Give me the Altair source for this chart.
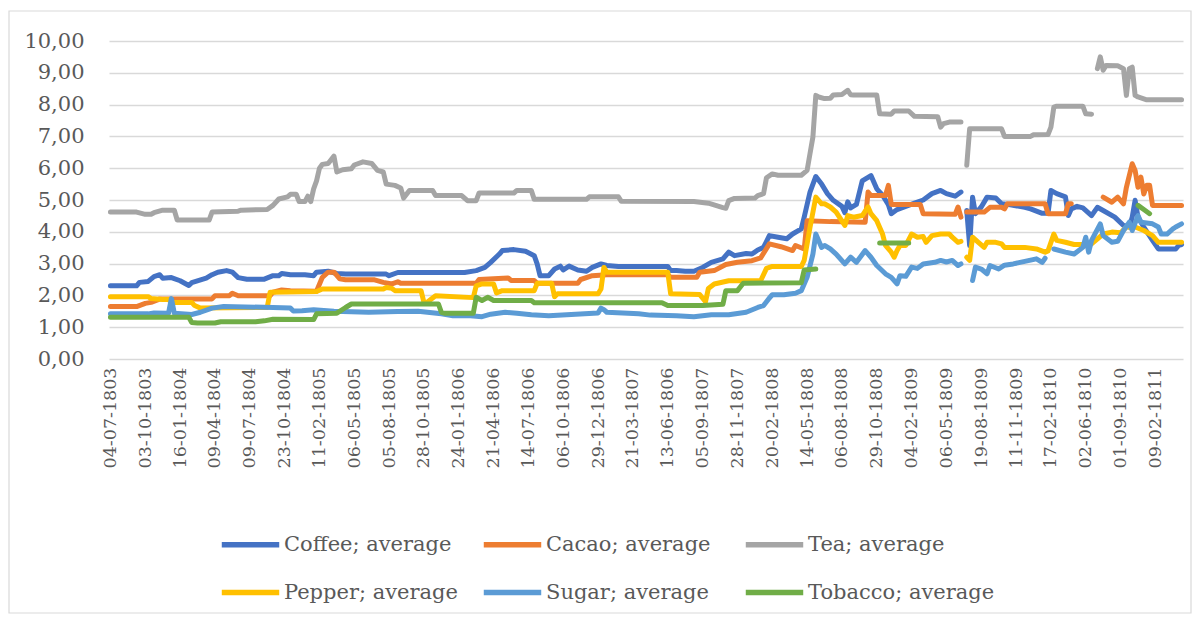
import json
import pandas as pd
import altair as alt

# ---------------- data ----------------
tick_labels = ["04-07-1803", "03-10-1803", "16-01-1804", "09-04-1804", "09-07-1804",
               "23-10-1804", "11-02-1805", "06-05-1805", "05-08-1805", "28-10-1805",
               "24-01-1806", "21-04-1806", "14-07-1806", "06-10-1806", "29-12-1806",
               "21-03-1807", "13-06-1806", "05-09-1807", "28-11-1807", "20-02-1808",
               "14-05-1808", "06-08-1808", "29-10-1808", "04-02-1809", "06-05-1809",
               "19-08-1809", "11-11-1809", "17-02-1810", "02-06-1810", "01-09-1810",
               "09-02-1811"]
n_categories = 370
label_step = 12

series_names = ["Coffee; average", "Cacao; average", "Tea; average",
                "Pepper; average", "Sugar; average", "Tobacco; average"]
series_colors = ["#4472C4", "#ED7D31", "#A5A5A5", "#FFC000", "#5B9BD5", "#70AD47"]

coffee_idx = [0, 9, 10, 13, 15, 17, 18, 21, 24, 27, 28, 33, 35, 37, 40, 42, 44, 47, 53, 56, 58, 59, 62, 67,
              70, 71, 75, 78, 81, 95, 96, 99, 122, 126, 129, 131, 134, 135, 139, 143, 146, 147, 148, 151,
              153, 155, 156, 158, 161, 164, 166, 169, 171, 175, 192, 193, 195, 198, 201, 204, 207, 211,
              213, 215, 219, 221, 223, 225, 227, 230, 233, 235, 238, 239, 241, 243, 245, 247, 249, 252,
              253, 254, 255, 257, 259, 262, 264, 266, 268, 269, 271, 274, 277, 280, 283, 286, 288, 291,
              293, 294, 295, 296, 297, 298, 300, 302, 305, 307, 310, 315, 317, 321, 323, 324, 326, 329,
              330, 331, 333, 335, 338, 340, 342, 346, 349, 351, 352, 353, 354, 356, 359, 361, 367, 368, 369]
coffee_val = [2.30, 2.30, 2.41, 2.44, 2.59, 2.65, 2.54, 2.56, 2.46, 2.31, 2.40, 2.54, 2.65, 2.73, 2.78, 2.73,
              2.56, 2.51, 2.51, 2.62, 2.62, 2.69, 2.65, 2.65, 2.62, 2.73, 2.76, 2.69, 2.67, 2.67, 2.62, 2.72,
              2.72, 2.78, 2.88, 3.04, 3.30, 3.41, 3.44, 3.39, 3.25, 2.99, 2.62, 2.62, 2.83, 2.92, 2.80, 2.92,
              2.80, 2.76, 2.88, 2.99, 2.94, 2.91, 2.91, 2.78, 2.78, 2.76, 2.76, 2.88, 3.04, 3.15, 3.36, 3.25,
              3.32, 3.30, 3.43, 3.51, 3.88, 3.83, 3.78, 3.93, 4.09, 4.46, 5.25, 5.74, 5.50, 5.20, 4.99, 4.80,
              4.60, 4.94, 4.75, 4.86, 5.60, 5.77, 5.35, 5.15, 4.85, 4.57, 4.70, 4.80, 4.90, 5.00, 5.20, 5.30,
              5.20, 5.12, 5.25, None, 4.67, 3.57, 5.09, 4.57, 4.78, 5.09, 5.06, 4.88, 4.85, 4.77, 4.72, 4.58,
              4.58, 5.30, 5.20, 5.10, 4.51, 4.72, 4.80, 4.75, 4.51, 4.77, 4.67, 4.46, 4.20, 4.15, 4.46, 4.99,
              4.46, 4.15, 3.73, 3.46, 3.46, 3.57, 3.60]

cacao_idx = [0, 9, 12, 14, 16, 17, 35, 36, 41, 42, 44, 55, 56, 59, 62, 71, 73, 75, 77, 79, 81, 91, 94, 97,
             99, 100, 126, 127, 137, 138, 146, 147, 161, 162, 166, 171, 192, 193, 202, 203, 208, 212, 216,
             221, 224, 227, 231, 235, 236, 239, 240, 248, 260, 261, 262, 267, 268, 269, 279, 280, 291, 292,
             293, 294, 295, 301, 303, 307, 308, 309, 322, 323, 329, 330, 331, 332, 342, 345, 347, 349, 350,
             352, 353, 354, 355, 356, 357, 358, 359, 369]
cacao_val = [1.65, 1.65, 1.75, 1.78, 1.85, 1.89, 1.89, 1.99, 1.99, 2.07, 1.99, 1.99, 2.10, 2.17, 2.15, 2.13,
             2.57, 2.73, 2.73, 2.52, 2.49, 2.49, 2.41, 2.36, 2.43, 2.38, 2.38, 2.50, 2.55, 2.47, 2.47, 2.38,
             2.38, 2.50, 2.62, 2.65, 2.65, 2.57, 2.57, 2.73, 2.78, 2.97, 3.04, 3.09, 3.18, 3.62, 3.53, 3.41,
             3.57, 3.46, 4.35, 4.32, 4.30, 5.25, 5.14, 5.14, 5.46, 4.86, 4.86, 4.57, 4.55, 4.78, 4.46, None,
             4.62, 4.62, 4.77, 4.77, 4.72, 4.88, 4.88, 4.57, 4.57, 4.88, 4.88, None, 5.09, 4.93, 5.09, 4.88,
             5.40, 6.14, 5.93, 5.40, 5.72, 5.19, 5.46, 5.46, 4.83, 4.83]

tea_idx = [0, 9, 12, 14, 15, 18, 22, 23, 34, 35, 44, 45, 54, 56, 58, 61, 62, 64, 65, 67, 68, 69, 70, 71, 72,
           73, 75, 77, 78, 80, 83, 84, 87, 90, 92, 94, 95, 98, 100, 101, 103, 111, 112, 121, 123, 126, 127,
           139, 140, 145, 146, 164, 165, 175, 176, 201, 206, 211, 212, 213, 215, 222, 223, 225, 226, 228, 230,
           238, 240, 241, 242, 243, 244, 246, 248, 249, 252, 254, 255, 256, 264, 265, 269, 270, 275, 277, 285,
           286, 287, 289, 293, 294, 295, 296, 307, 308, 317, 318, 323, 324, 325, 326, 335, 336, 338, 339, 340,
           341, 342, 343, 347, 349, 350, 351, 352, 353, 354, 357, 369]
tea_val = [4.62, 4.62, 4.55, 4.55, 4.60, 4.68, 4.68, 4.37, 4.37, 4.62, 4.65, 4.68, 4.70, 4.83, 5.03, 5.10,
           5.18, 5.18, 4.95, 4.95, 5.12, 4.95, 5.35, 5.60, 6.00, 6.12, 6.15, 6.38, 5.88, 5.95, 5.98, 6.10,
           6.20, 6.15, 5.93, 5.88, 5.50, 5.46, 5.38, 5.06, 5.30, 5.30, 5.14, 5.14, 4.98, 4.98, 5.22, 5.22,
           5.30, 5.30, 5.02, 5.02, 5.10, 5.10, 4.96, 4.95, 4.90, 4.76, 4.74, 4.98, 5.05, 5.06, 5.14, 5.20,
           5.70, 5.82, 5.78, 5.78, 5.93, 6.46, 6.98, 8.29, 8.24, 8.19, 8.20, 8.30, 8.32, 8.45, 8.31, 8.30,
           8.30, 7.71, 7.70, 7.80, 7.80, 7.63, 7.62, 7.29, 7.40, 7.45, 7.45, None, 6.09, 7.24, 7.24, 7.00,
           7.00, 7.05, 7.06, 7.29, 7.92, 7.95, 7.95, 7.71, 7.70, None, 9.13, 9.50, 9.08, 9.23, 9.22, 9.13,
           8.29, 9.13, 9.18, 8.29, 8.24, 8.15, 8.15]

pepper_idx = [0, 13, 14, 18, 20, 21, 28, 29, 31, 54, 55, 71, 73, 94, 95, 97, 98, 107, 108, 109, 112, 125,
              126, 128, 132, 133, 135, 146, 147, 152, 153, 154, 168, 169, 170, 171, 192, 193, 203, 205, 206,
              208, 213, 224, 226, 228, 238, 239, 241, 243, 245, 246, 248, 250, 253, 254, 256, 259, 261, 262,
              264, 266, 267, 269, 270, 271, 272, 274, 276, 278, 280, 281, 283, 286, 289, 290, 292, 293, 294,
              295, 296, 297, 299, 301, 302, 305, 307, 308, 315, 319, 322, 323, 325, 326, 329, 332, 336, 338,
              342, 345, 348, 350, 353, 356, 359, 361, 369]
pepper_val = [1.96, 1.96, 1.90, 1.87, 1.87, 1.78, 1.78, 1.68, 1.60, 1.62, 2.10, 2.12, 2.20, 2.20, 2.25, 2.22,
              2.15, 2.15, 1.78, 1.78, 1.99, 1.93, 2.30, 2.36, 2.36, 2.08, 2.15, 2.15, 2.38, 2.38, 1.96, 2.05,
              2.05, 2.20, 2.88, 2.73, 2.73, 2.05, 2.03, 1.80, 2.22, 2.36, 2.46, 2.46, 2.85, 2.91, 2.91, 3.10,
              4.14, 5.09, 4.88, 4.88, 4.78, 4.62, 4.20, 4.51, 4.46, 4.51, 4.78, 4.57, 4.35, 3.93, 3.57, 3.36,
              3.20, 3.41, 3.57, 3.57, 3.93, 3.83, 3.85, 3.67, 3.88, 3.93, 3.93, 3.83, 3.67, 3.70, None, 3.20,
              3.10, 3.83, 3.67, 3.51, 3.67, 3.67, 3.62, 3.51, 3.51, 3.46, 3.36, 3.40, 3.93, 3.73, 3.67, 3.60,
              3.60, 3.62, 3.93, 3.99, 3.97, 4.15, 4.15, 4.04, 3.88, 3.67, 3.67]

sugar_idx = [0, 13, 15, 20, 21, 22, 28, 31, 35, 39, 56, 62, 63, 66, 70, 77, 89, 99, 106, 114, 118, 124, 128,
             131, 136, 140, 145, 151, 168, 169, 170, 171, 182, 186, 195, 201, 207, 213, 219, 223, 225, 227,
             228, 232, 236, 238, 240, 242, 243, 245, 246, 248, 250, 253, 255, 257, 260, 262, 264, 267, 269,
             271, 272, 274, 276, 278, 280, 284, 286, 288, 290, 292, 293, 294, 297, 298, 300, 302, 303, 306,
             308, 311, 315, 319, 321, 322, 323, 325, 329, 332, 335, 336, 337, 338, 341, 342, 345, 347, 349,
             351, 352, 354, 355, 359, 361, 362, 364, 366, 367, 369]
sugar_val = [1.42, 1.42, 1.45, 1.44, 1.90, 1.44, 1.40, 1.47, 1.60, 1.65, 1.62, 1.60, 1.51, 1.52, 1.55, 1.50,
             1.47, 1.49, 1.50, 1.42, 1.36, 1.36, 1.33, 1.41, 1.47, 1.44, 1.39, 1.36, 1.45, 1.60, 1.55, 1.47,
             1.42, 1.38, 1.36, 1.33, 1.39, 1.39, 1.47, 1.62, 1.68, 1.92, 2.02, 2.02, 2.07, 2.15, 2.57, 3.30,
             3.93, 3.51, 3.57, 3.46, 3.30, 2.99, 3.20, 3.04, 3.41, 3.20, 2.94, 2.68, 2.57, 2.36, 2.62, 2.60,
             2.89, 2.85, 2.99, 3.04, 3.10, 3.05, 3.10, 2.94, 2.99, None, 2.47, 2.89, 2.83, 2.68, 2.94, 2.83,
             2.95, 2.99, 3.07, 3.15, 3.04, 3.17, None, 3.46, 3.36, 3.30, 3.51, 3.83, 3.36, 3.73, 4.25, 3.88,
             3.67, 3.70, 4.04, 4.30, 4.04, 4.51, 4.30, 4.25, 4.15, 3.93, 3.93, 4.09, 4.15, 4.25]

tobacco_idx = [0, 27, 28, 30, 36, 38, 50, 53, 56, 70, 71, 78, 81, 83, 113, 114, 115, 125, 126, 128, 130,
               132, 145, 146, 190, 192, 204, 211, 212, 216, 218, 238, 239, 243, 244, 265, 275, 276, 354,
               356, 358]
tobacco_val = [1.31, 1.31, 1.15, 1.13, 1.13, 1.17, 1.17, 1.20, 1.25, 1.24, 1.42, 1.44, 1.62, 1.73, 1.73,
               1.47, 1.44, 1.44, 1.94, 1.84, 1.94, 1.84, 1.84, 1.77, 1.77, 1.68, 1.68, 1.72, 2.15, 2.15,
               2.38, 2.40, 2.80, 2.83, None, 3.65, 3.65, None, 4.83, 4.70, 4.57]

all_idx = [coffee_idx, cacao_idx, tea_idx, pepper_idx, sugar_idx, tobacco_idx]
all_val = [coffee_val, cacao_val, tea_val, pepper_val, sugar_val, tobacco_val]

rows = []
for order, (name, idx, val) in enumerate(zip(series_names, all_idx, all_val)):
    for i, v in zip(idx, val):
        rows.append({"series": name, "order": order, "i": i, "price": v})
df = pd.DataFrame(rows)

# ---------------- chart ----------------
FONT = "DejaVu Serif"
TEXT = "#595959"
GRID = "#d9d9d9"

label_expr = json.dumps(tick_labels) + f"[round(datum.value / {label_step})]"

lines = alt.Chart(df).mark_line(
    strokeWidth=5, strokeCap="round", strokeJoin="round",
    invalid="break-paths-show-domains"
).encode(
    x=alt.X("i:Q",
            scale=alt.Scale(domain=[-0.5, n_categories - 0.5], nice=False, zero=False),
            axis=alt.Axis(values=list(range(0, len(tick_labels) * label_step, label_step)),
                          labelExpr=label_expr, labelAngle=270, labelFont=FONT,
                          labelFontSize=17.5, labelColor=TEXT, labelPadding=8,
                          labelOverlap=False, labelBound=False, labelFlush=False,
                          ticks=False, domain=False, grid=False, title=None)),
    y=alt.Y("price:Q",
            scale=alt.Scale(domain=[0, 10], nice=False),
            axis=alt.Axis(values=list(range(0, 11)),
                          labelExpr="replace(format(datum.value, '.2f'), '.', ',')",
                          labelFont=FONT, labelFontSize=21, labelColor=TEXT,
                          labelPadding=25, ticks=False, domain=False,
                          gridColor=GRID, gridWidth=1.3, title=None)),
    color=alt.Color("series:N",
                    scale=alt.Scale(domain=series_names, range=series_colors),
                    legend=alt.Legend(title=None, orient="none", legendX=110, legendY=472,
                                      direction="horizontal", columns=3,
                                      symbolType="stroke", symbolSize=3300,
                                      symbolStrokeWidth=5.5, labelFont=FONT,
                                      labelFontSize=21, labelColor=TEXT, labelLimit=0,
                                      labelOffset=2, columnPadding=1, rowPadding=5,
                                      gridAlign="all")),
    detail="series:N",
    order="i:Q",
)

frame = alt.Chart(pd.DataFrame({"k": [0]})).mark_rect(
    fillOpacity=0, stroke=GRID, strokeWidth=1.2
).encode(
    x=alt.value(-100), x2=alt.value(1082), y=alt.value(-30), y2=alt.value(572)
)

chart = alt.layer(frame, lines).properties(
    width=1074, height=318,
    autosize=alt.AutoSizeParams(type="none"),
    padding={"left": 109, "top": 41, "right": 17, "bottom": 262},
    background="white",
).configure_view(stroke=None)

chart.save("out.html", embed_options={"renderer": "svg", "actions": False})
